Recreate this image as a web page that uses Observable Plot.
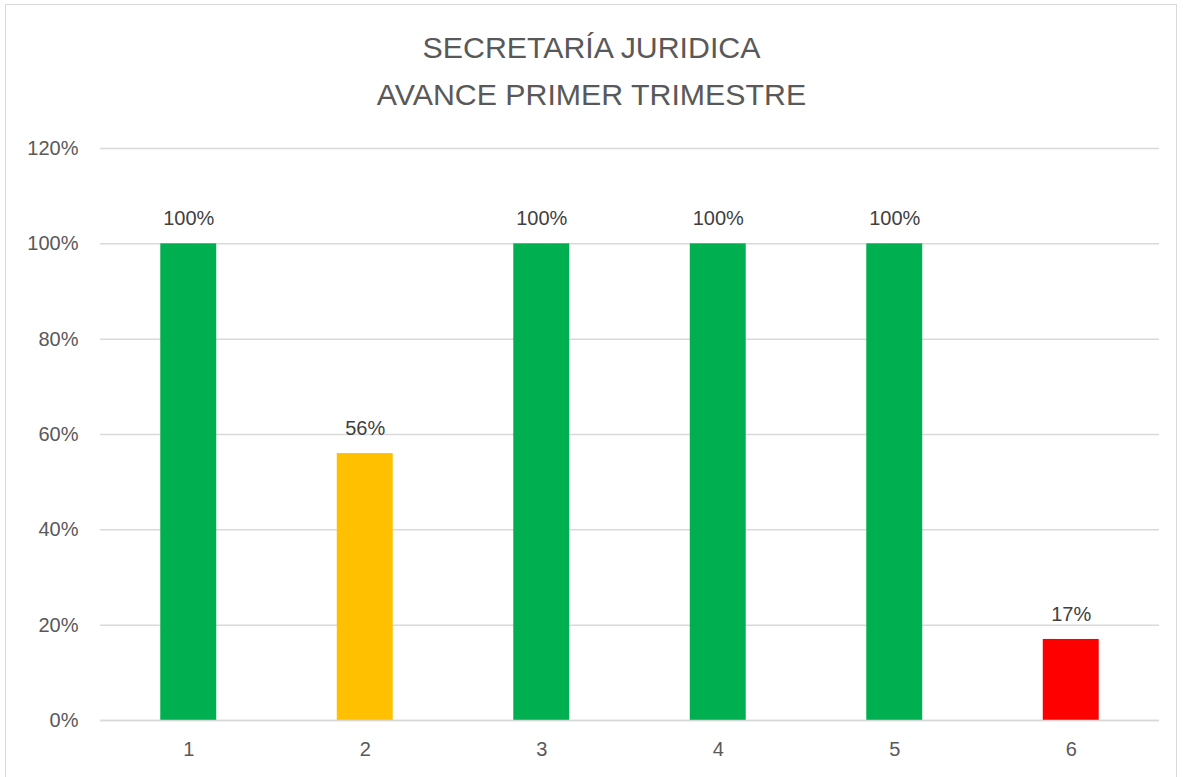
<!DOCTYPE html>
<html>
<head>
<meta charset="utf-8">
<script src="https://cdn.jsdelivr.net/npm/d3@7"></script>
<script src="https://cdn.jsdelivr.net/npm/@observablehq/plot@0.6"></script>
<style>
  html, body { margin: 0; padding: 0; background: #fff; }
  #wrap { position: relative; width: 1183px; height: 777px; overflow: hidden; font-family: "Liberation Sans", Arial, sans-serif; }
  #frame { position: absolute; left: 5px; top: 4px; width: 1172px; height: 790px; border: 1px solid #d9d9d9; box-sizing: border-box; }
  #title { position: absolute; left: 0; top: 24px; width: 1183px; text-align: center; color: #595959; font-size: 30.3px; line-height: 47px; }
  #chart { position: absolute; left: 0; top: 0; }
</style>
</head>
<body>
<div id="wrap">
  <div id="frame"></div>
  <div id="title">SECRETARÍA JURIDICA<br>AVANCE PRIMER TRIMESTRE</div>
  <div id="chart"></div>
</div>
<script>
const categories = ["1", "2", "3", "4", "5", "6"];
const values = [1.00, 0.56, 1.00, 1.00, 1.00, 0.17];
const barColors = ["#00B050", "#FFC000", "#00B050", "#00B050", "#00B050", "#FF0000"];
const yTicks = [0, 0.2, 0.4, 0.6, 0.8, 1.0, 1.2];

const data = categories.map((c, i) => ({cat: c, value: values[i], color: barColors[i]}));
const pct = d3.format(".0%");

const chart = Plot.plot({
  width: 1183,
  height: 777,
  marginTop: 148,
  marginBottom: 57,
  marginLeft: 100,
  marginRight: 24,
  style: {background: "transparent", fontFamily: "'Liberation Sans', Arial, sans-serif", fontSize: "20px", color: "#595959"},
  x: {domain: categories, paddingInner: 0.683, paddingOuter: 0.3415, align: 0.5, round: false, label: null, tickSize: 0, tickPadding: 21},
  y: {domain: [0, 1.2], ticks: yTicks, tickFormat: pct, label: null, tickSize: 0, tickPadding: 22},
  marks: [
    Plot.gridY(yTicks, {stroke: "#d9d9d9", strokeOpacity: 1, strokeWidth: 1.5}),
    Plot.barY(data, {x: "cat", y: "value", fill: "color"}),
    Plot.ruleY([0], {stroke: "#d9d9d9", strokeWidth: 1.5}),
    Plot.text(data, {x: "cat", y: "value", text: d => pct(d.value), dy: -25, fill: "#404040", fontSize: 20})
  ]
});
document.getElementById("chart").appendChild(chart);
</script>
</body>
</html>
